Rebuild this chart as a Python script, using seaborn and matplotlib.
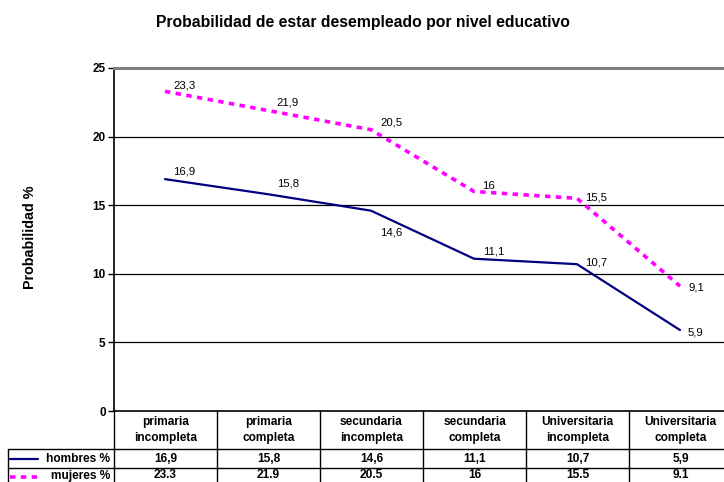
import numpy as np
import pandas as pd
import matplotlib
matplotlib.use("Agg")
import matplotlib.pyplot as plt
import seaborn as sns

# ---- data ----
categorias = ["primaria\nincompleta", "primaria\ncompleta", "secundaria\nincompleta",
              "secundaria\ncompleta", "Universitaria\nincompleta", "Universitaria\ncompleta"]
hombres = [16.9, 15.8, 14.6, 11.1, 10.7, 5.9]
mujeres = [23.3, 21.9, 20.5, 16.0, 15.5, 9.1]
series_names = ["hombres %", "mujeres %"]
yticks = [0, 5, 10, 15, 20, 25]
titulo = "Probabilidad de estar desempleado por nivel educativo"
ylabel = "Probabilidad %"

# ---- style ----
NAVY = "#000080"
PINK = "#FF00FF"
W, H = 724, 482

sns.set_theme(style="white")
plt.rcParams["font.family"] = ["Liberation Sans", "DejaVu Sans"]
plt.rcParams["text.color"] = "black"
plt.rcParams["ytick.color"] = "black"
plt.rcParams["ytick.labelcolor"] = "black"

def fmt(v, sep):
    if float(v).is_integer():
        return str(int(v))
    return f"{v:.1f}".replace(".", sep)

fig = plt.figure(figsize=(W / 100, H / 100), dpi=100)
fig.patch.set_facecolor("white")
ax = fig.add_axes([114 / W, 1 - 411 / H, (724 - 114) / W, (411 - 68) / H])
ax.set_facecolor("white")

df = pd.DataFrame({"x": np.arange(len(categorias)), "hombres": hombres, "mujeres": mujeres})
sns.lineplot(data=df, x="x", y="hombres", ax=ax, color=NAVY, lw=1.6, sort=False, legend=False)
sns.lineplot(data=df, x="x", y="mujeres", ax=ax, color=PINK, lw=2.6, sort=False, legend=False,
             linestyle=(0, (1.5, 1.5)))

ax.set_xlim(-0.495, 5.427)
ax.set_ylim(0, 25)
ax.set_yticks(yticks)
ax.set_yticklabels([str(t) for t in yticks], fontsize=8.5, fontweight="bold", color="black")
ax.set_xticks([])
ax.set_xlabel("")
ax.set_ylabel("")
for t in yticks[1:-1]:
    ax.axhline(t, color="black", lw=0.9, zorder=0)
ax.tick_params(axis="y", direction="out", length=4, width=1, color="black", pad=2, left=True)
for s in ["left", "bottom"]:
    ax.spines[s].set_color("black")
    ax.spines[s].set_linewidth(1.2)
ax.spines["top"].set_color("#808080")
ax.spines["top"].set_linewidth(2.2)
ax.spines["right"].set_visible(False)

# data labels (offsets in pixels -> points)
off_h = [(8, 8), (9, 11), (9, -22), (9, 7), (8, 2), (8, -2)]
off_m = [(8, 6), (8, 8), (9, 7), (8, 5), (8, 1), (8, -1)]
for vals, offs in [(hombres, off_h), (mujeres, off_m)]:
    for i, (v, (dx, dy)) in enumerate(zip(vals, offs)):
        ax.annotate(fmt(v, ","), (i, v), xytext=(dx * 0.72, dy * 0.72), textcoords="offset points",
                    ha="left", va="center", fontsize=8.2, color="black")

# title & y label
fig.text(363 / W, 1 - 22 / H, titulo, ha="center", va="center", fontsize=11.3, fontweight="bold")
fig.text(30 / W, 1 - 237 / H, ylabel, ha="center", va="center", rotation=90,
         fontsize=10.3, fontweight="bold")

# ---- data table below the axes ----
def px(x, y):
    return x / W, 1 - y / H

tf = fig.transFigure
col_edges = [114 + 103 * k for k in range(len(categorias) + 1)]
row_top, row_h1, row_h2, row_bot = 411, 449, 468, 487

def line(x0, y0, x1, y1, lw=1.0):
    a, b = px(x0, y0)
    c, d = px(x1, y1)
    fig.add_artist(plt.Line2D([a, c], [b, d], transform=tf, color="black", lw=lw))

for xe in col_edges:
    line(xe, row_top, xe, row_bot)
line(8, row_h1, 724, row_h1)
line(8, row_h2, 724, row_h2)
line(8, row_h1, 8, row_bot)

for i, cat in enumerate(categorias):
    cx = (col_edges[i] + col_edges[i + 1]) / 2
    fig.text(*px(cx, 430), cat, ha="center", va="center", fontsize=8.6, fontweight="bold",
             linespacing=1.45)
    fig.text(*px(cx, 459), fmt(hombres[i], ","), ha="center", va="center", fontsize=8.6,
             fontweight="bold")
    fig.text(*px(cx, 475.5), fmt(mujeres[i], "."), ha="center", va="center", fontsize=8.6,
             fontweight="bold")

# legend keys in row labels
a, b = px(10, 459); c, d = px(38, 459)
fig.add_artist(plt.Line2D([a, c], [b, d], transform=tf, color=NAVY, lw=1.6))
a, b = px(10, 476.5); c, d = px(38, 476.5)
fig.add_artist(plt.Line2D([a, c], [b, d], transform=tf, color=PINK, lw=2.6,
                          linestyle=(0, (1.5, 1.5))))
fig.text(*px(110, 459), series_names[0], ha="right", va="center", fontsize=8.6, fontweight="bold")
fig.text(*px(110, 475.5), series_names[1], ha="right", va="center", fontsize=8.6, fontweight="bold")

fig.savefig("out.png", dpi=100, facecolor="white")
